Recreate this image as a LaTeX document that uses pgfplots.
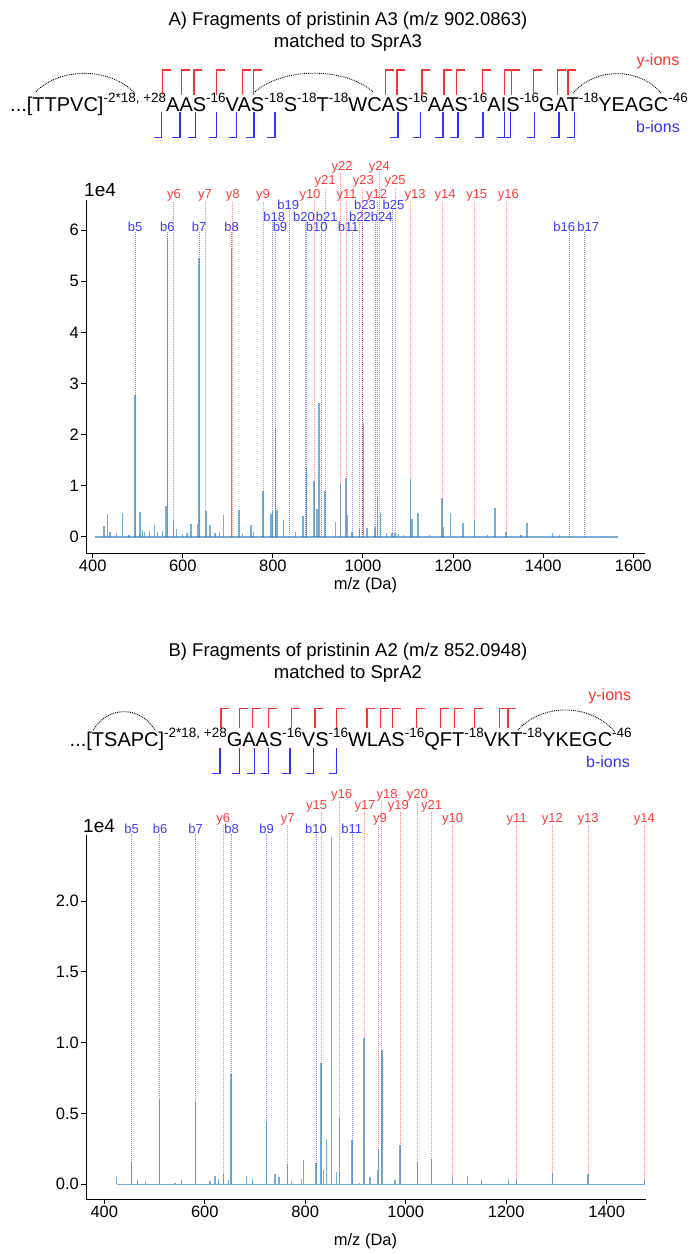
\documentclass[border=0pt]{standalone}
\usepackage{fontspec}
\setmainfont{Liberation Sans}
\usepackage{pgfplots}
\usepackage{pgfplotstable}
\pgfplotsset{compat=1.18}
\definecolor{mplblue}{HTML}{1F77B4}
\definecolor{labred}{HTML}{FF3B3B}
\definecolor{labblue}{HTML}{3B3BFF}
\definecolor{brred}{HTML}{FF3030}
\definecolor{brblue}{HTML}{3030FF}
\newcommand\sq[1]{\raisebox{9bp}{\fontsize{13.5bp}{14bp}\selectfont #1}}
\newcommand\seqfont{\fontsize{20bp}{24bp}\selectfont}
\newcommand\titfont{\fontsize{18.5bp}{20bp}\selectfont}
\tikzset{
 yline/.style={red, opacity=0.45, line width=0.8bp, dash pattern=on 1bp off 1bp},
 bline/.style={blue, opacity=0.45, line width=0.8bp, dash pattern=on 1bp off 1bp},
 ylab/.style={anchor=south, inner sep=0pt, text=labred, font=\fontsize{13bp}{14bp}\selectfont},
 blab/.style={anchor=south, inner sep=0pt, text=labblue, font=\fontsize{13bp}{14bp}\selectfont},
}
\newcommand\an[5]{\addplot[#1line] coordinates {(#2,0) (#2,#4)}; \node[#1lab] at (axis cs:#3,#4) {#5};}
\newcommand\rbr[3]{\pgfmathsetmacro\xe{#1+8.3}\edef\tmp{\noexpand\addplot[brred, line width=1.3bp] coordinates {(#1,#3) (#1,#2) (\xe,#2)};}\tmp}
\newcommand\bbr[3]{\pgfmathsetmacro\xe{#1-7.7}\edef\tmp{\noexpand\addplot[brblue, line width=1.3bp] coordinates {(#1,#2) (#1,#3) (\xe,#3)};}\tmp}
\pgfplotsset{spec/.style={scale only axis, axis x line*=bottom, axis y line*=left,
 tick align=outside, major tick length=5bp, tick style={black, line width=1bp},
 axis line style={black, line width=1bp},
 tick label style={font=\fontsize{16.5bp}{18bp}\selectfont},
 xticklabel style={inner sep=1.5bp}, yticklabel style={inner sep=2bp},
 /pgf/number format/assume math mode=true, /pgf/number format/1000 sep={},
 clip=false, enlargelimits=false, scaled ticks=false}}

\pgfplotstableread[row sep=\\]{
mz h\\
425 0.22\\ 433 0.44\\ 438.4 0.1\\ 453 0.07\\ 466 0.46\\ 481 0.03\\ 494 2.78\\ 505 0.48\\ 511 0.13\\ 514.7 0.1\\
525.8 0.12\\ 537 0.23\\ 543.6 0.1\\ 554.7 0.12\\ 562.9 0.61\\ 565.7 5.85\\ 579 0.33\\ 586.6 0.16\\ 600 0.05\\ 609 0.08\\
618.4 0.26\\ 632.5 0.25\\ 636.1 5.45\\ 651.8 0.51\\ 660.7 0.24\\ 671.8 0.08\\ 681.4 0.1\\ 690.4 0.43\\ 708.6 5.65\\ 724.4 0.52\\
733 0.06\\ 751.8 0.24\\ 757 0.1\\ 778.1 0.89\\ 795.5 0.45\\ 799.6 0.5\\ 805.4 2.14\\ 808.8 0.53\\ 823.6 0.33\\ 849.6 0.1\\
866.7 0.4\\ 875.1 1.35\\ 891.3 1.1\\ 898 0.55\\ 902.2 2.62\\ 904 0.79\\ 915.7 0.89\\ 938.4 0.3\\ 949.7 1.03\\ 962.4 1.16\\
964.4 0.43\\ 975.5 0.1\\ 991.9 0.16\\ 1001.4 2.23\\ 1009 0.17\\ 1026.7 0.2\\ 1031.8 0.8\\ 1038.4 0.46\\ 1051.8 0.07\\ 1064.4 0.07\\
1071.1 0.07\\ 1079 0.05\\ 1090 0.04\\ 1105.1 1.14\\ 1108.8 0.35\\ 1122.2 0.46\\ 1148 0.04\\ 1175.4 0.76\\ 1179 0.2\\ 1194 0.46\\
1222 0.27\\ 1247.1 0.33\\ 1277 0.03\\ 1293.3 0.56\\ 1317.5 0.1\\ 1351 0.04\\ 1364.4 0.27\\ 1421 0.07\\ 1436 0.03\\ 1531 0.01\\
}\peaksA
\pgfplotstableread[row sep=\\]{
mz h\\
424.7 0.05\\ 453.8 0.16\\ 465.7 0.03\\ 482 0.02\\ 510.3 0.6\\ 541 0.01\\ 554 0.03\\ 581.9 0.58\\ 610.4 0.02\\ 620 0.06\\
627 0.04\\ 636.9 0.07\\ 647 0.03\\ 652.2 0.78\\ 683.4 0.06\\ 694.6 0.04\\ 722.5 0.44\\ 739.8 0.07\\ 747.8 0.05\\ 765 0.14\\
773 0.02\\ 792.9 0.04\\ 796 0.17\\ 821.4 0.15\\ 831.3 0.86\\ 836 0.1\\ 842.6 0.32\\ 851.8 2.45\\ 862.6 0.09\\ 868.6 0.47\\
893 0.31\\ 907.6 0.01\\ 916.9 1.03\\ 928.9 0.05\\ 944 0.1\\ 945.4 0.25\\ 952.5 0.95\\ 978.6 0.03\\ 988.6 0.28\\ 1023 0.16\\
1051.7 0.18\\ 1093.5 0.05\\ 1122.6 0.06\\ 1151.2 0.03\\ 1204 0.04\\ 1220.9 0.04\\ 1291.7 0.08\\ 1362.8 0.07\\ 1474.8 0.03\\
}\peaksB

\begin{document}
\begin{tikzpicture}
\useasboundingbox (0,0) rectangle (696bp,-1254bp);
% ---------- overlay (titles, sequences) in pixel coordinates ----------
\begin{axis}[at={(0,0)}, anchor=north west, scale only axis, width=696bp, height=1254bp,
 xmin=0, xmax=696, ymin=0, ymax=1254, y dir=reverse, hide axis, clip=false]
\node[anchor=base, inner sep=0, font=\titfont] at (axis cs:348,25.5) {A) Fragments of pristinin A3 (m/z 902.0863)};
\node[anchor=base, inner sep=0, font=\titfont] at (axis cs:348,47.5) {matched to SprA3};
\node[anchor=base west, inner sep=0] at (axis cs:10,111.7) {\seqfont ...[TTPVC]\sq{-2*18, +28}AAS\sq{-16}VAS\sq{-18}S\sq{-18}T\sq{-18}WCAS\sq{-16}AAS\sq{-16}AIS\sq{-16}GAT\sq{-18}YEAGC\sq{-46}};
\node[inner sep=0, text=brred, font=\fontsize{16bp}{18bp}\selectfont] at (axis cs:658,61.7) {y-ions};
\node[inner sep=0, text=brblue, font=\fontsize{16bp}{18bp}\selectfont] at (axis cs:658,126.7) {b-ions};
\draw[densely dotted, line width=0.9bp] (axis cs:36,91.7) .. controls (axis cs:60,67) and (axis cs:110,67) .. (axis cs:135,93.3);
\draw[densely dotted, line width=0.9bp] (axis cs:255,91.7) .. controls (axis cs:284,67) and (axis cs:344,67) .. (axis cs:373,91.7);
\draw[densely dotted, line width=0.9bp] (axis cs:573,93.3) .. controls (axis cs:595,67) and (axis cs:639,67) .. (axis cs:661.3,93.3);
\rbr{162.7}{70}{95}\rbr{181.7}{70}{95}\rbr{194}{70}{95}\rbr{216.7}{70}{95}\rbr{242.3}{70}{95}\rbr{253.3}{70}{95}
\rbr{385.3}{70}{95}\rbr{397}{70}{95}\rbr{422}{70}{95}\rbr{444}{70}{95}\rbr{456.3}{70}{95}\rbr{482.3}{70}{95}
\rbr{504.7}{70}{95}\rbr{511.3}{70}{95}\rbr{533.7}{70}{95}\rbr{557.3}{70}{95}\rbr{568}{70}{95}
\bbr{161.7}{112}{137.3}\bbr{180}{112}{137.3}\bbr{195.7}{112}{137.3}\bbr{216.7}{112}{137.3}\bbr{236.7}{112}{137.3}
\bbr{254}{112}{137.3}\bbr{275}{112}{137.3}\bbr{398}{112}{137.3}\bbr{420.7}{112}{137.3}\bbr{443}{112}{137.3}
\bbr{458}{112}{137.3}\bbr{483}{112}{137.3}\bbr{504.7}{112}{137.3}\bbr{510.3}{112}{137.3}\bbr{534.7}{112}{137.3}
\bbr{559}{112}{137.3}\bbr{574.7}{112}{137.3}
\node[anchor=base west, inner sep=0, font=\fontsize{19bp}{20bp}\selectfont] at (axis cs:84,196.5) {1e4};
\node[anchor=base, inner sep=0, font=\fontsize{16.5bp}{18bp}\selectfont] at (axis cs:365.5,589) {m/z (Da)};
% ---- B header
\node[anchor=base, inner sep=0, font=\titfont] at (axis cs:348,656) {B) Fragments of pristinin A2 (m/z 852.0948)};
\node[anchor=base, inner sep=0, font=\titfont] at (axis cs:348,678) {matched to SprA2};
\node[anchor=base west, inner sep=0] at (axis cs:69.5,746.7) {\seqfont ...[TSAPC]\sq{-2*18, +28}GAAS\sq{-16}VS\sq{-16}WLAS\sq{-16}QFT\sq{-18}VKT\sq{-18}YKEGC\sq{-46}};
\node[inner sep=0, text=brred, font=\fontsize{16bp}{18bp}\selectfont] at (axis cs:609.7,696.7) {y-ions};
\node[inner sep=0, text=brblue, font=\fontsize{16bp}{18bp}\selectfont] at (axis cs:608,761.7) {b-ions};
\draw[densely dotted, line width=0.9bp] (axis cs:93.3,730) .. controls (axis cs:108,705.5) and (axis cs:140,705.5) .. (axis cs:155,730);
\draw[densely dotted, line width=0.9bp] (axis cs:518,730) .. controls (axis cs:542,703) and (axis cs:590,703) .. (axis cs:614.7,731.7);
\rbr{221}{708.3}{728.3}\rbr{239.3}{708.3}{728.3}\rbr{252.7}{708.3}{728.3}\rbr{268.3}{708.3}{728.3}\rbr{291.7}{708.3}{728.3}
\rbr{315}{708.3}{728.3}\rbr{336.7}{708.3}{728.3}\rbr{367}{708.3}{728.3}\rbr{380.3}{708.3}{728.3}\rbr{392.3}{708.3}{728.3}
\rbr{416.3}{708.3}{728.3}\rbr{440.3}{708.3}{728.3}\rbr{454.7}{708.3}{728.3}\rbr{474.7}{708.3}{728.3}\rbr{499.7}{708.3}{728.3}
\rbr{508}{708.3}{728.3}
\bbr{220}{748.3}{773.3}\bbr{239.3}{748.3}{773.3}\bbr{254.3}{748.3}{773.3}\bbr{268.3}{748.3}{773.3}\bbr{290}{748.3}{773.3}
\bbr{313.3}{748.3}{773.3}\bbr{336.7}{748.3}{773.3}
\node[anchor=base west, inner sep=0, font=\fontsize{19bp}{20bp}\selectfont] at (axis cs:83,832) {1e4};
\node[anchor=base, inner sep=0, font=\fontsize{16.5bp}{18bp}\selectfont] at (axis cs:365.5,1245) {m/z (Da)};
\end{axis}
% ---------- spectrum A ----------
\begin{axis}[spec, at={(86bp,-553.3bp)}, anchor=south west, width=559bp, height=353.3bp,
 xmin=385.2, xmax=1626, ymin=-0.32, ymax=6.59, xtick={400,600,...,1600}, ytick={0,1,...,6}]
\an{b}{494.0}{494.0}{5.96}{b5}
\an{b}{565.7}{565.7}{5.96}{b6}
\an{b}{636.1}{636.1}{5.96}{b7}
\an{b}{708.6}{708.6}{5.96}{b8}
\an{b}{805.4}{815.8}{5.96}{b9}
\an{b}{875.1}{897.3}{5.96}{b10}
\an{b}{975.7}{967.5}{5.96}{b11}
\an{b}{1458.9}{1446.9}{5.96}{b16}
\an{b}{1491.3}{1500.2}{5.96}{b17}
\an{b}{799.6}{803.2}{6.17}{b18}
\an{b}{872.0}{869.1}{6.17}{b20}
\an{b}{907.5}{919.5}{6.17}{b21}
\an{b}{991.9}{993.4}{6.17}{b22}
\an{b}{1026.7}{1041.6}{6.17}{b24}
\an{b}{836.5}{834.3}{6.40}{b19}
\an{b}{997.9}{1004.5}{6.40}{b23}
\an{b}{1064.5}{1067.8}{6.40}{b25}
\an{y}{579.0}{580.5}{6.57}{y6}
\an{y}{650.0}{649.4}{6.57}{y7}
\an{y}{710.4}{710.8}{6.57}{y8}
\an{y}{778.1}{778.1}{6.57}{y9}
\an{y}{891.3}{882.4}{6.57}{y10}
\an{y}{962.4}{963.9}{6.57}{y11}
\an{y}{1031.8}{1030.5}{6.57}{y12}
\an{y}{1105.1}{1115.5}{6.57}{y13}
\an{y}{1175.4}{1182.1}{6.57}{y14}
\an{y}{1247.1}{1252.5}{6.57}{y15}
\an{y}{1317.5}{1322.6}{6.57}{y16}
\an{y}{915.7}{915.7}{6.83}{y21}
\an{y}{999.4}{1000.8}{6.83}{y23}
\an{y}{1071.1}{1071.1}{6.83}{y25}
\an{y}{949.7}{953.5}{7.12}{y22}
\an{y}{1035.6}{1036.3}{7.12}{y24}
\addplot[mplblue, opacity=0.6, line width=1.4bp, no marks] coordinates {(405,0) (1565,0)};
\addplot[ycomb, mplblue, opacity=0.6, line width=1.4bp, no marks] table[x=mz, y=h] {\peaksA};
\end{axis}
% ---------- spectrum B ----------
\begin{axis}[spec, at={(86bp,-1199bp)}, anchor=south west, width=559.7bp, height=364bp,
 xmin=363.6, xmax=1477.6, ymin=-0.104, ymax=2.467, xtick={400,600,...,1400}, ytick={0,0.5,...,2.0},
 yticklabel style={/pgf/number format/.cd, fixed, fixed zerofill, precision=1}]
\an{b}{453.8}{454.6}{2.474}{b5}
\an{b}{510.3}{510.9}{2.474}{b6}
\an{b}{581.9}{581.9}{2.474}{b7}
\an{b}{652.2}{653.6}{2.474}{b8}
\an{b}{722.5}{723.3}{2.474}{b9}
\an{b}{821.4}{821.4}{2.474}{b10}
\an{b}{893.0}{892.4}{2.474}{b11}
\an{y}{636.9}{636.9}{2.535}{y6}
\an{y}{765.0}{765.0}{2.535}{y7}
\an{y}{945.4}{948.8}{2.535}{y9}
\an{y}{1093.5}{1093.5}{2.535}{y10}
\an{y}{1220.9}{1220.9}{2.535}{y11}
\an{y}{1291.7}{1291.7}{2.535}{y12}
\an{y}{1362.8}{1362.8}{2.535}{y13}
\an{y}{1474.8}{1474.8}{2.535}{y14}
\an{y}{831.3}{822.8}{2.629}{y15}
\an{y}{916.9}{918.9}{2.629}{y17}
\an{y}{988.6}{985.2}{2.629}{y19}
\an{y}{1051.7}{1051.7}{2.629}{y21}
\an{y}{868.6}{872.5}{2.707}{y16}
\an{y}{952.5}{962.7}{2.707}{y18}
\an{y}{1023.0}{1023.0}{2.707}{y20}
\addplot[mplblue, opacity=0.6, line width=1.4bp, no marks] coordinates {(424.7,0) (1477,0)};
\addplot[ycomb, mplblue, opacity=0.6, line width=1.4bp, no marks] table[x=mz, y=h] {\peaksB};
\end{axis}
\end{tikzpicture}
\end{document}
